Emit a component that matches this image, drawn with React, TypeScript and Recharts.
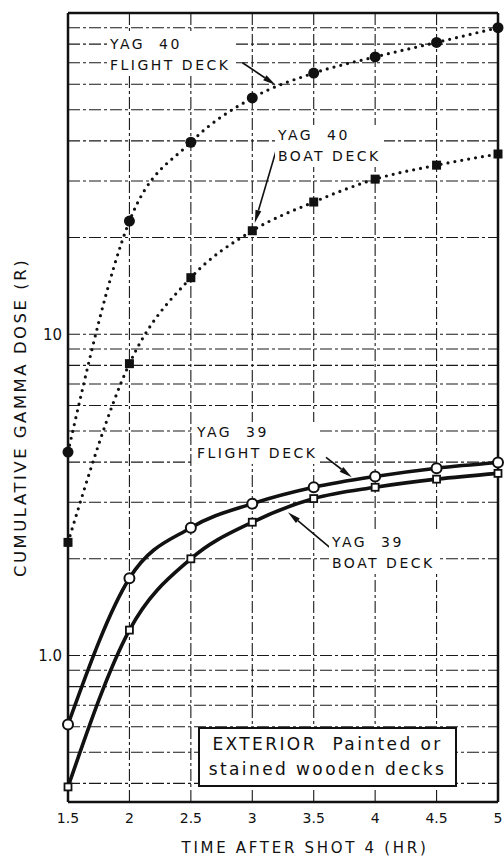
import React from 'react';
import { LineChart, Line, XAxis, YAxis, CartesianGrid, ReferenceLine, Label } from 'recharts';

// hours after shot 4
const times = [1.5, 2, 2.5, 3, 3.5, 4, 4.5, 5];

// cumulative gamma dose (R)
const yag40Flight = [4.3, 22.5, 39.6, 54.4, 65, 73, 81, 90];
const yag40Boat = [2.25, 8.1, 15, 21, 25.8, 30.4, 33.6, 36.4];
const yag39Flight = [0.61, 1.74, 2.5, 2.97, 3.34, 3.61, 3.83, 3.99];
const yag39Boat = [0.39, 1.2, 2.0, 2.6, 3.08, 3.34, 3.54, 3.69];

const xTicks = [1.5, 2, 2.5, 3, 3.5, 4, 4.5, 5];
const yTicks = [
  0.4, 0.5, 0.6, 0.7, 0.8, 0.9,
  1, 2, 3, 4, 5, 6, 7, 8, 9,
  10, 20, 30, 40, 50, 60, 70, 80, 90, 100,
];
const yTickLabels: Record<string, string> = { '1': '1.0', '10': '10' };

// annotation arrows, tail -> head, in data units
const arrows = [
  [{ x: 2.92, y: 70 }, { x: 3.19, y: 59.7 }],
  [{ x: 3.2, y: 38 }, { x: 3.02, y: 22.2 }],
  [{ x: 3.6, y: 4.14 }, { x: 3.81, y: 3.59 }],
  [{ x: 3.63, y: 2.17 }, { x: 3.29, y: 2.79 }],
];

const data = times.map((t, i) => ({
  time: t,
  yag40Flight: yag40Flight[i],
  yag40Boat: yag40Boat[i],
  yag39Flight: yag39Flight[i],
  yag39Boat: yag39Boat[i],
}));

const INK = '#111';
const FONT = '"DejaVu Sans", sans-serif';

const ArrowShape = (props: any) => {
  const { x1, y1, x2, y2 } = props;
  const dx = x2 - x1;
  const dy = y2 - y1;
  const len = Math.hypot(dx, dy) || 1;
  const ux = dx / len;
  const uy = dy / len;
  const hl = 13;
  const hw = 3;
  const bx = x2 - ux * hl;
  const by = y2 - uy * hl;
  return (
    <g>
      <line x1={x1} y1={y1} x2={bx} y2={by} stroke={INK} strokeWidth={1.6} />
      <polygon
        points={`${x2},${y2} ${bx - uy * hw},${by + ux * hw} ${bx + uy * hw},${by - ux * hw}`}
        fill={INK}
      />
    </g>
  );
};

const filledCircle = (p: any) => <circle key={`fc${p.index}`} cx={p.cx} cy={p.cy} r={5.5} fill={INK} />;
const filledSquare = (p: any) => (
  <rect key={`fs${p.index}`} x={p.cx - 4.5} y={p.cy - 4.5} width={9} height={9} fill={INK} />
);
const openCircle = (p: any) => (
  <circle key={`oc${p.index}`} cx={p.cx} cy={p.cy} r={5} fill="#fff" stroke={INK} strokeWidth={2} />
);
const openSquare = (p: any) => (
  <rect key={`os${p.index}`} x={p.cx - 3.5} y={p.cy - 3.5} width={7} height={7} fill="#fff" stroke={INK} strokeWidth={1.8} />
);

const labelStyle: React.CSSProperties = {
  position: 'absolute',
  fontFamily: FONT,
  fontSize: 14,
  letterSpacing: 2.5,
  lineHeight: '21px',
  color: INK,
  background: '#fff',
  padding: '0 3px',
  whiteSpace: 'pre',
};

export default function App() {
  return (
    <div style={{ position: 'absolute', left: 0, top: 0, width: 504, height: 856, background: '#fff' }}>
      <LineChart width={504} height={856} data={data} margin={{ top: 13, right: 6, bottom: 0, left: 0 }}>
        <CartesianGrid stroke="#1a1a1a" strokeWidth={1.1} strokeDasharray="12 3 3 3" />
        <XAxis
          dataKey="time"
          type="number"
          domain={[1.5, 5]}
          ticks={xTicks}
          interval={0}
          height={54}
          tickLine={false}
          tickSize={0}
          tickMargin={11}
          axisLine={{ stroke: INK, strokeWidth: 2.5 }}
          tick={{ fill: INK, fontSize: 14, fontFamily: FONT }}
          tickFormatter={(v) => String(v)}
        >
          <Label
            content={({ viewBox }: any) => (
              <text
                x={viewBox.x + viewBox.width / 2 + 22}
                y={viewBox.y + viewBox.height - 3}
                textAnchor="middle"
                fill={INK}
                fontSize={15}
                fontFamily={FONT}
                letterSpacing={2.7}
              >
                TIME AFTER SHOT 4 (HR)
              </text>
            )}
          />
        </XAxis>
        <YAxis
          type="number"
          scale="log"
          domain={[0.35, 100]}
          allowDataOverflow
          ticks={yTicks}
          interval={0}
          width={68}
          tickLine={false}
          tickSize={0}
          tickMargin={6}
          axisLine={{ stroke: INK, strokeWidth: 2.5 }}
          tick={{ fill: INK, fontSize: 15, fontFamily: FONT }}
          tickFormatter={(v) => yTickLabels[String(v)] ?? ''}
        >
          <Label
            content={({ viewBox }: any) => {
              const cx = viewBox.x + 20;
              const cy = viewBox.y + viewBox.height / 2 + 10;
              return (
                <text
                  x={cx}
                  y={cy}
                  transform={`rotate(-90 ${cx} ${cy})`}
                  textAnchor="middle"
                  dominantBaseline="central"
                  fill={INK}
                  fontSize={16.5}
                  fontFamily={FONT}
                  letterSpacing={2.5}
                >
                  CUMULATIVE GAMMA DOSE (R)
                </text>
              );
            }}
          />
        </YAxis>
        <ReferenceLine y={100} stroke={INK} strokeWidth={2.5} ifOverflow="visible" />
        <ReferenceLine x={5} stroke={INK} strokeWidth={2.5} ifOverflow="visible" />
        {arrows.map((seg, i) => (
          <ReferenceLine key={`arrow${i}`} segment={seg} ifOverflow="visible" shape={ArrowShape} />
        ))}
        <Line
          dataKey="yag40Flight"
          type="monotone"
          stroke={INK}
          strokeWidth={3.2}
          strokeDasharray="0 7"
          strokeLinecap="round"
          dot={filledCircle}
          isAnimationActive={false}
        />
        <Line
          dataKey="yag40Boat"
          type="monotone"
          stroke={INK}
          strokeWidth={3.2}
          strokeDasharray="0 7"
          strokeLinecap="round"
          dot={filledSquare}
          isAnimationActive={false}
        />
        <Line
          dataKey="yag39Flight"
          type="monotone"
          stroke={INK}
          strokeWidth={3.6}
          dot={openCircle}
          isAnimationActive={false}
        />
        <Line
          dataKey="yag39Boat"
          type="monotone"
          stroke={INK}
          strokeWidth={3.6}
          dot={openSquare}
          isAnimationActive={false}
        />
      </LineChart>

      <div style={{ ...labelStyle, left: 107, top: 34 }}>{'YAG  40\nFLIGHT DECK'}</div>
      <div style={{ ...labelStyle, left: 275, top: 125 }}>{'YAG  40\nBOAT DECK'}</div>
      <div style={{ ...labelStyle, left: 194, top: 422 }}>{'YAG  39\nFLIGHT DECK'}</div>
      <div style={{ ...labelStyle, left: 329, top: 532 }}>{'YAG  39\nBOAT DECK'}</div>

      <div
        style={{
          position: 'absolute',
          left: 198,
          top: 727,
          width: 255,
          height: 53,
          border: `2.5px solid ${INK}`,
          background: '#fff',
          fontFamily: FONT,
          fontSize: 17,
          letterSpacing: 2.4,
          lineHeight: '25px',
          color: INK,
          textAlign: 'center',
          paddingTop: 3,
          boxSizing: 'content-box',
          whiteSpace: 'pre',
        }}
      >
        {'EXTERIOR  Painted or\nstained wooden decks'}
      </div>
    </div>
  );
}
